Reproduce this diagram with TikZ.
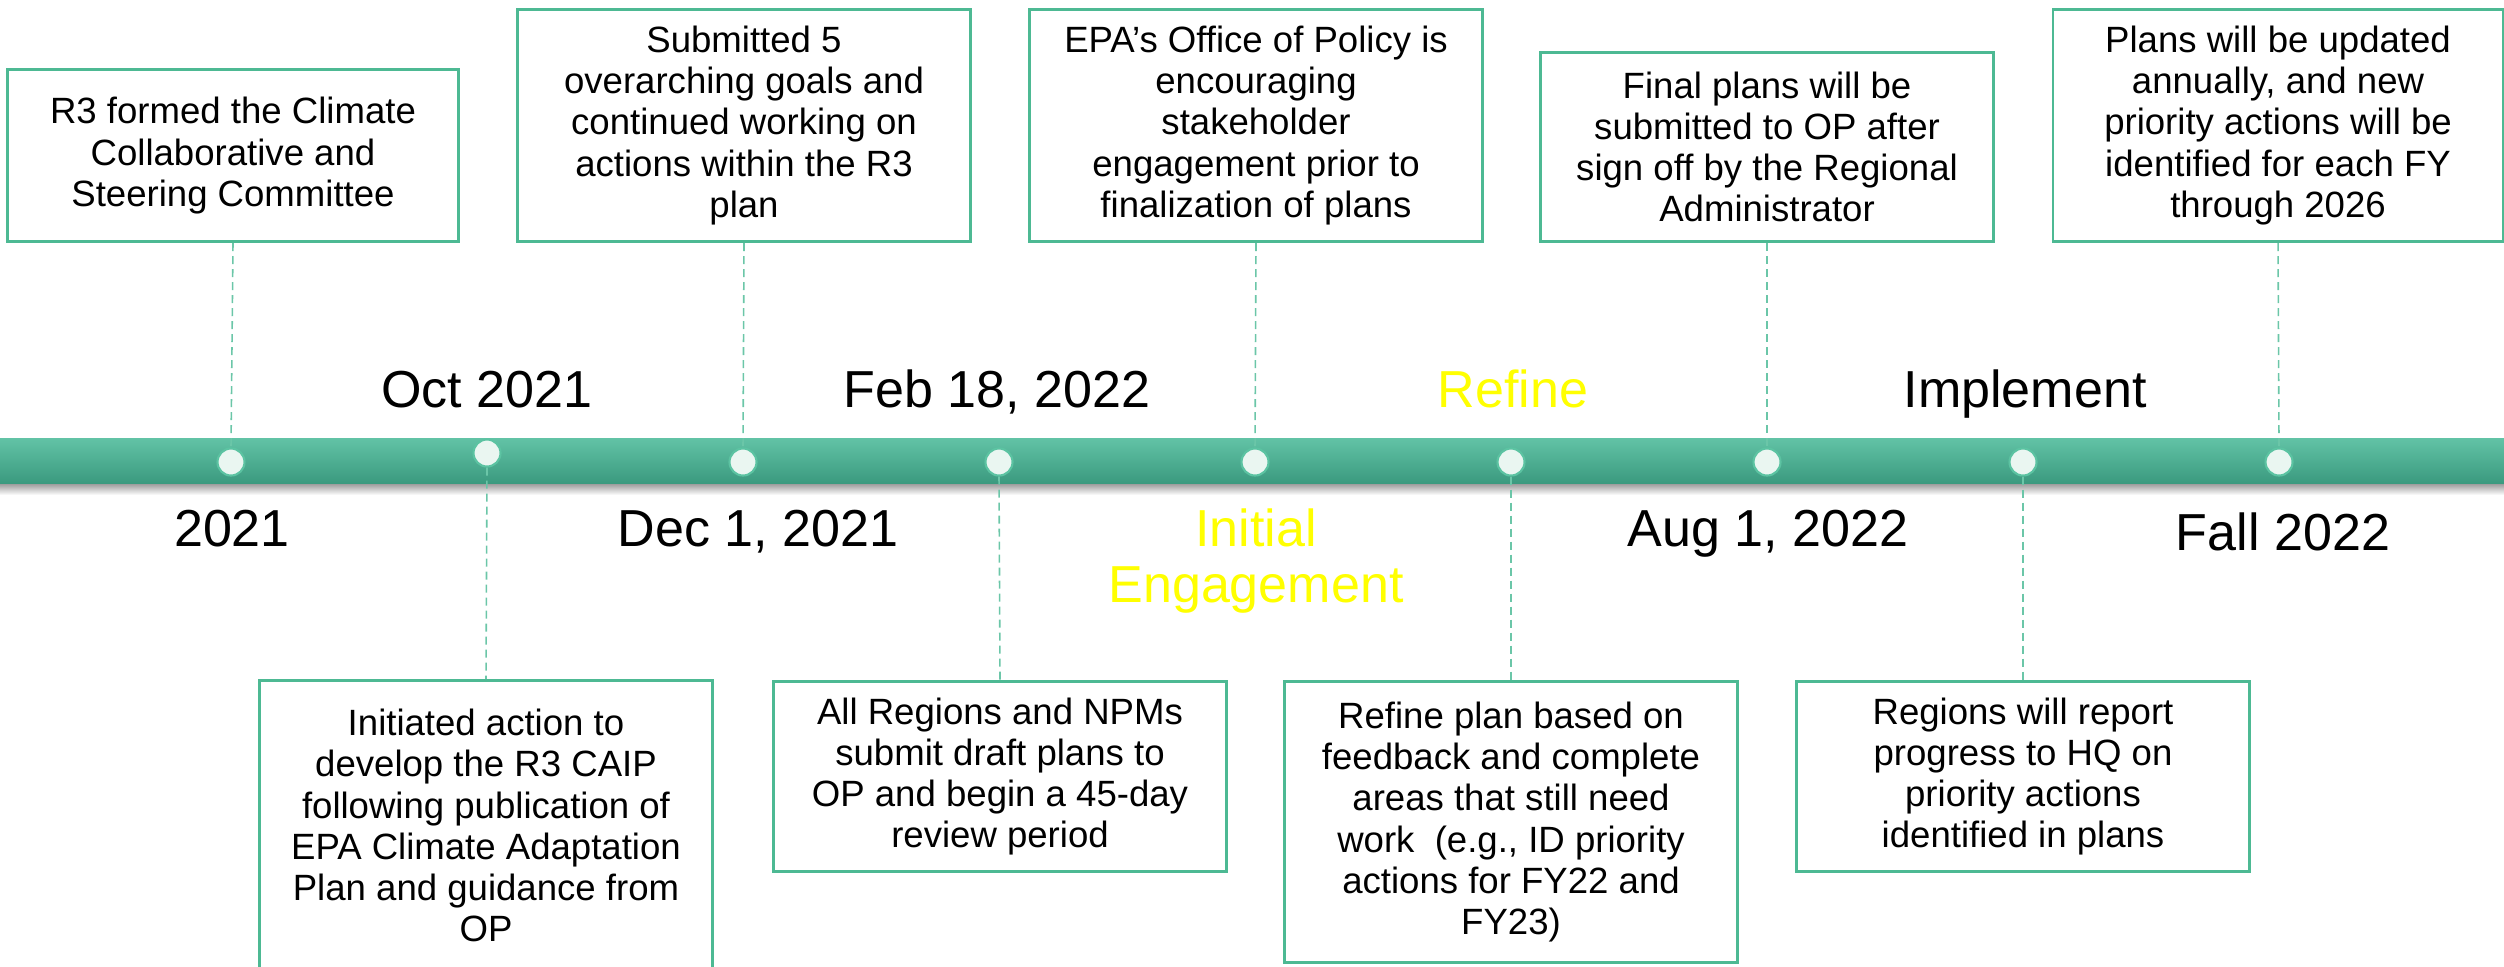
\documentclass[tikz,border=0pt]{standalone}
\usepackage{fontspec}
\setmainfont{Liberation Sans}
\definecolor{barTop}{HTML}{62C3A6}
\definecolor{barBot}{HTML}{3B9A7F}
\definecolor{boxc}{HTML}{4DB993}
\definecolor{dashc}{HTML}{6BC6A8}
\definecolor{dotfill}{HTML}{EAF6F1}
\definecolor{dotc}{HTML}{5CC3A2}
\definecolor{phase}{HTML}{FFFF00}
\tikzset{
 box/.style={draw=boxc, line width=0.8pt, fill=white, align=center, font=\fontsize{10.4}{11.7}\selectfont, minimum width=4.52cm, inner sep=0pt},
 tdot/.style={circle, fill=dotfill, draw=dotc, line width=0.6pt, minimum size=0.27cm, inner sep=0pt},
 conn/.style={draw=dashc, line width=0.45pt, dash pattern=on 0.08cm off 0.05cm},
 datel/.style={font=\fontsize{14.8}{15.9}\selectfont, anchor=base, inner sep=0pt},
}
\begin{document}
\begin{tikzpicture}[x=0.01cm,y=-0.01cm]
\useasboundingbox (0,0) rectangle (2504,966);
% bar shadow and bar
\shade[top color=black!45, bottom color=white] (0,482) rectangle (2504,495);
\shade[top color=barTop, bottom color=barBot] (0,438) rectangle (2504,483);
% dots
\node[tdot] (d0) at (231,462) {};
\node[tdot] (d1) at (487,453) {};
\node[tdot] (d2) at (743,462) {};
\node[tdot] (d3) at (999,462) {};
\node[tdot] (d4) at (1255,462) {};
\node[tdot] (d5) at (1511,462) {};
\node[tdot] (d6) at (1767,462) {};
\node[tdot] (d7) at (2023,462) {};
\node[tdot] (d8) at (2279,462) {};
% top boxes
\node[box, anchor=south, minimum width=4.50cm, minimum height=1.72cm] (t0) at (233,243) {R3 formed the Climate\\Collaborative and\\Steering Committee};
\node[box, anchor=south, minimum height=2.32cm] (t1) at (744,243) {Submitted 5\\overarching goals and\\continued working on\\actions within the R3\\plan};
\node[box, anchor=south, minimum height=2.32cm] (t2) at (1256,243) {EPA’s Office of Policy is\\encouraging\\stakeholder\\engagement prior to\\finalization of plans};
\node[box, anchor=south, minimum height=1.89cm] (t3) at (1767,243) {Final plans will be\\submitted to OP after\\sign off by the Regional\\Administrator};
\node[box, anchor=south, minimum width=4.50cm, minimum height=2.32cm] (t4) at (2278,243) {Plans will be updated\\annually, and new\\priority actions will be\\identified for each FY\\through 2026};
% bottom boxes
\node[box, anchor=north, minimum height=2.90cm] (b0) at (486,679) {Initiated action to\\develop the R3 CAIP\\following publication of\\EPA Climate Adaptation\\Plan and guidance from\\OP};
\node[box, anchor=north, minimum height=1.90cm] (b1) at (1000,680) {All Regions and NPMs\\submit draft plans to\\OP and begin a 45-day\\review period};
\node[box, anchor=north, minimum height=2.81cm] (b2) at (1511,680) {Refine plan based on\\feedback and complete\\areas that still need\\work~ (e.g., ID priority\\actions for FY22 and\\FY23)};
\node[box, anchor=north, minimum height=1.90cm] (b3) at (2023,680) {Regions will report\\progress to HQ on\\priority actions\\identified in plans};
% connectors
\draw[conn] (t0.south) -- (d0.north);
\draw[conn] (t1.south) -- (d2.north);
\draw[conn] (t2.south) -- (d4.north);
\draw[conn] (t3.south) -- (d6.north);
\draw[conn] (t4.south) -- (d8.north);
\draw[conn] (d1.south) -- (b0.north);
\draw[conn] (d3.south) -- (b1.north);
\draw[conn] (d5.south) -- (b2.north);
\draw[conn] (d7.south) -- (b3.north);
% date labels
\node[datel] (l1) at (487,407) {Oct 2021};
\node[datel] (l3) at (997,407) {Feb 18, 2022};
\node[datel, text=phase] (l5) at (1513,407) {Refine};
\node[datel] (l7) at (2025,407) {Implement};
\node[datel] (l0) at (232,546) {2021};
\node[datel] (l2) at (758,546) {Dec 1, 2021};
\node[datel, text=phase] (l4a) at (1256,546) {Initial};
\node[datel, text=phase] (l4b) at (1256,602) {Engagement};
\node[datel] (l6) at (1768,546) {Aug 1, 2022};
\node[datel] (l8) at (2283,550) {Fall 2022};
\end{tikzpicture}
\end{document}
